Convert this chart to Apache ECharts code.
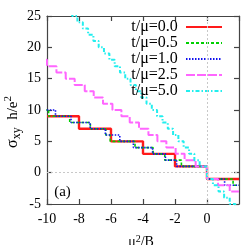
<!DOCTYPE html>
<html><head><meta charset="utf-8">
<script src="https://cdn.jsdelivr.net/npm/echarts@6/dist/echarts.min.js"></script>
<style>html,body{margin:0;padding:0;background:#fff}#c{width:243px;height:245px}</style>
</head><body><div id="c"></div>
<script>
// ---- data (plateau start positions on μ²/B and plateau values of σxy h/e²) ----
const seriesNames = ['t/μ=0.0', 't/μ=0.5', 't/μ=1.0', 't/μ=2.5', 't/μ=5.0'];
const xTicks = [-10, -8, -6, -4, -2, 0];
const yTicks = [-5, 0, 5, 10, 15, 20, 25];
const xEnd = 2;

const t00_x = [-10, -8, -6, -4, -2, 0];
const t00_y = [9, 7, 5, 3, 1, -1];

const t05_x = [-10.2, -9.9, -8.58, -7.29, -6.33, -6.05, -4.5, -3.37, -2.64, -1.6, 0, 1.63];
const t05_y = [10, 9, 8, 7, 6, 5, 4, 3, 2, 1, -1, -2];

const t10_x = [-10.2, -9.47, -8.5, -7.3, -6.35, -5.45, -4.6, -3.4, -2.6, -1.9, 0, 1.1];
const t10_y = [10, 9, 8, 7, 6, 5, 4, 3, 2, 1, -1, -2];

const t25_x = [-10.2, -10, -9.41, -8.83, -8.27, -7.64, -7.08, -6.5, -5.91, -5.35, -4.83, -4.25, -3.66, -3.1, -2.54, -1.96, -1.4, -0.71, 0, 0.69, 1.42];
const t25_y = [18, 17, 16, 15, 14, 13, 12, 11, 10, 9, 8, 7, 6, 5, 4, 3, 2, 1, -1, -2, -3];

const t50_x = [-10.2, -9.76, -9.43, -9.10, -8.76, -8.43, -8.10, -7.76, -7.43, -7.10, -6.77, -6.44, -6.10, -5.77, -5.44, -5.11, -4.78, -4.44, -4.11, -3.78, -3.45, -3.12, -2.78, -2.45, -2.12, -1.79, -1.46, -1.12, -0.79, -0.46, 0, 0.37, 0.72, 1.07, 1.42, 1.77];
const t50_y = [30, 29, 28, 27, 26, 25, 24, 23, 22, 21, 20, 19, 18, 17, 16, 15, 14, 13, 12, 11, 10, 9, 8, 7, 6, 5, 4, 3, 2, 1, -1, -2, -3, -4, -5, -6];

// ---- build ----
function pts(xs, ys) {
  const d = xs.map((x, i) => [x, ys[i]]);
  d.push([xEnd, ys[ys.length - 1]]);
  return d;
}
const SERIF = 'Liberation Serif';
const styles = [
  { color: '#ff1a1a', width: 2.4, type: 'solid' },
  { color: '#00d000', width: 1.6, type: [3, 2] },
  { color: '#1010ee', width: 1.6, type: [1.5, 1.5] },
  { color: '#ff66ff', width: 2, type: [9, 2] },
  { color: '#22eeee', width: 2, type: [4, 2, 1.5, 2] }
];
const dataSets = [pts(t00_x, t00_y), pts(t05_x, t05_y), pts(t10_x, t10_y), pts(t25_x, t25_y), pts(t50_x, t50_y)];

const axisLineStyle = { color: '#444', width: 1.2 };
const chart = echarts.init(document.getElementById('c'), null, { renderer: 'canvas' });
const series = [{
  type: 'line', data: [], silent: true, symbol: 'none',
  markLine: {
    silent: true, symbol: 'none', label: { show: false },
    lineStyle: { color: '#c8c8c8', type: [2, 2], width: 1 },
    data: [{ xAxis: 0 }, { yAxis: 0 }]
  }
}];
seriesNames.forEach((n, i) => {
  series.push({
    name: n, type: 'line', step: 'end', data: dataSets[i], symbol: 'none',
    lineStyle: styles[i], itemStyle: { color: styles[i].color, opacity: 0 }, clip: true
  });
});

chart.setOption({
  animation: false,
  backgroundColor: '#fff',
  grid: { left: 47, right: 4, top: 16, bottom: 41 },
  xAxis: [{
    type: 'value', min: xTicks[0], max: xEnd, interval: 2, position: 'bottom',
    axisLine: { show: true, lineStyle: axisLineStyle, onZero: false },
    axisTick: { show: true, inside: true, length: 5, lineStyle: axisLineStyle },
    axisLabel: { show: true, showMaxLabel: false, margin: 8, color: '#000', fontFamily: SERIF, fontSize: 14 },
    splitLine: { show: false }
  }, {
    type: 'value', min: xTicks[0], max: xEnd, interval: 2, position: 'top',
    axisLine: { show: true, lineStyle: axisLineStyle, onZero: false },
    axisTick: { show: true, inside: true, length: 5, lineStyle: axisLineStyle },
    axisLabel: { show: false }, splitLine: { show: false }
  }],
  yAxis: [{
    type: 'value', min: yTicks[0], max: yTicks[yTicks.length - 1], interval: 5, position: 'left',
    axisLine: { show: true, lineStyle: axisLineStyle, onZero: false },
    axisTick: { show: true, inside: true, length: 5, lineStyle: axisLineStyle },
    axisLabel: { show: true, margin: 6, color: '#000', fontFamily: SERIF, fontSize: 14 },
    splitLine: { show: false }
  }, {
    type: 'value', min: yTicks[0], max: yTicks[yTicks.length - 1], interval: 5, position: 'right',
    axisLine: { show: true, lineStyle: axisLineStyle, onZero: false },
    axisTick: { show: true, inside: true, length: 5, lineStyle: axisLineStyle },
    axisLabel: { show: false }, splitLine: { show: false }
  }],
  legend: {
    data: seriesNames, orient: 'vertical', align: 'right', right: 20, top: 19, padding: 0,
    itemWidth: 36, itemHeight: 10, itemGap: 0, selectedMode: false,
    itemStyle: { opacity: 0 },
    formatter: n => n + '\u2009',
    textStyle: { fontFamily: SERIF, fontSize: 16, color: '#000', lineHeight: 13.8 }
  },
  graphic: [
    { type: 'text', x: 13, y: 122, rotation: Math.PI / 2,
      style: { text: '{a|σ}{b|xy}{c|  h/e}{d|2}', align: 'center', verticalAlign: 'middle', fill: '#000',
        rich: {
          a: { fontFamily: SERIF, fontSize: 16, lineHeight: 20 },
          b: { fontFamily: SERIF, fontSize: 12, verticalAlign: 'bottom', lineHeight: 20 },
          c: { fontFamily: SERIF, fontSize: 15, lineHeight: 20 },
          d: { fontFamily: SERIF, fontSize: 11, verticalAlign: 'top', lineHeight: 20 }
        } } },
    { type: 'text', x: 141, y: 242,
      style: { text: '{c|μ}{d|2}{c|/B}', align: 'center', verticalAlign: 'middle', fill: '#000',
        rich: {
          c: { fontFamily: SERIF, fontSize: 14, lineHeight: 16 },
          d: { fontFamily: SERIF, fontSize: 10, verticalAlign: 'top', lineHeight: 16 }
        } } },
    { type: 'text', x: 62.5, y: 192,
      style: { text: '(a)', align: 'center', verticalAlign: 'middle', fill: '#000', font: '15px "Liberation Serif"' } }
  ],
  series: series
});
</script></body></html>
